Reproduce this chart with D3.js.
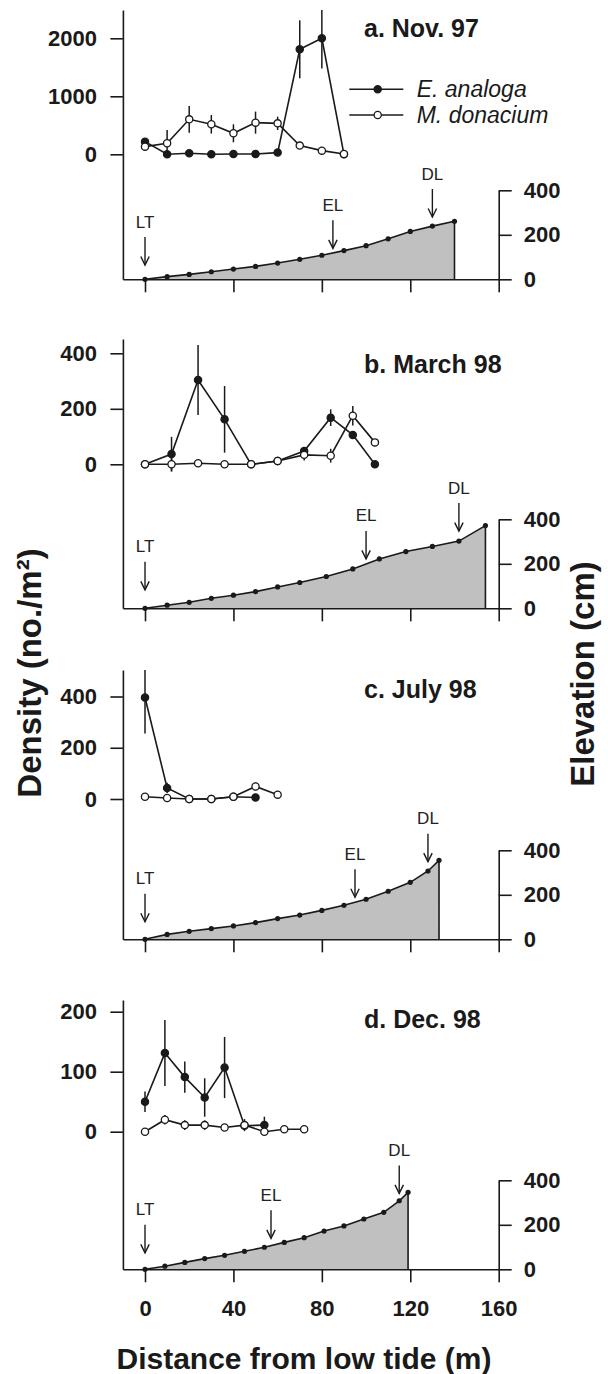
<!DOCTYPE html>
<html>
<head>
<meta charset="utf-8">
<script src="https://cdn.jsdelivr.net/npm/d3@7"></script>
<style>
  body { margin: 0; background: #fff; }
  svg text { font-family: "Liberation Sans", Arial, sans-serif; }
</style>
</head>
<body>
<div id="d3-container"></div>
<script>
// Densidad (no./m²) de E. analoga y M. donacium, con error estándar
const distA = [0, 10, 20, 30, 40, 50, 60, 70, 80, 90]
const eaA = [218, 0, 17, 0, 5, 5, 29, 1810, 2000, 0]
const eaSeA = [40, 0, 0, 0, 0, 0, 0, 500, 520, 0]
const mdA = [132, 190, 603, 517, 362, 546, 534, 150, 63, 5]
const mdSeA = [60, 230, 230, 160, 155, 190, 115, 0, 0, 0]

const distB = [0, 12, 24, 36, 48, 60, 72, 84, 94, 104]
const eaB = [0, 37, 304, 162, 0, 12, 48, 168, 106, 0]
const eaSeB = [0, 62, 126, 120, 0, 0, 10, 30, 0, 0]
const mdB = [0, 0, 4, 0, 0, 12, 34, 31, 175, 79]
const mdSeB = [0, 26, 0, 0, 0, 15, 20, 25, 35, 0]

const distC = [0, 10, 20, 30, 40, 50, 60]
const eaC = [396, 43, 0, 0, 9, 6, null]
const eaSeC = [140, 20, 0, 0, 0, 0, 0]
const mdC = [9, 4, 0, 0, 9, 49, 17]
const mdSeC = [0, 0, 0, 0, 0, 15, 0]

const distD = [0, 9, 18, 27, 36, 45, 54, 63, 72]
const eaD = [50, 131, 91, 57, 107, 10, 11, null, null]
const eaSeD = [17, 55, 26, 32, 51, 0, 14, 0, 0]
const mdD = [0, 20, 11, 11, 7, 11, 0, 4, 4]
const mdSeD = [0, 8, 8, 8, 0, 10, 0, 0, 0]

// Perfil de elevación (cm) de la playa
const elevDistA = [0, 10, 20, 30, 40, 50, 60, 70, 80, 90, 100, 110, 120, 130, 140]
const elevA = [0, 12, 22, 34, 46, 58, 73, 90, 108, 129, 151, 182, 215, 239, 261]
const elevDistB = [0, 10, 20, 30, 40, 50, 60, 70, 82, 94, 106, 118, 130, 142, 154]
const elevB = [0, 14, 27, 45, 59, 75, 96, 116, 143, 177, 222, 255, 278, 302, 372]
const elevDistC = [0, 10, 20, 30, 40, 50, 60, 70, 80, 90, 100, 110, 120, 128, 133]
const elevC = [0, 22, 36, 48, 60, 75, 93, 109, 130, 153, 180, 216, 256, 307, 355]
const elevDistD = [0, 9, 18, 27, 36, 45, 54, 63, 72, 81, 90, 99, 108, 115, 119]
const elevD = [0, 14, 31, 48, 63, 81, 99, 121, 142, 172, 195, 226, 256, 308, 346]

// Marcas: etiqueta, distancia (m), elevación de la punta de la flecha (cm)
const marksA = [["LT", 0, 64], ["EL", 85, 139], ["DL", 130, 280]]
const marksB = [["LT", 0, 83], ["EL", 100, 222], ["DL", 142, 347]]
const marksC = [["LT", 0, 79], ["EL", 95, 189], ["DL", 128, 349]]
const marksD = [["LT", 0, 74], ["EL", 57, 139], ["DL", 115, 341]]

const titles = ["a. Nov. 97", "b. March 98", "c. July 98", "d. Dec. 98"]
const densTicks = [[0, 1000, 2000], [0, 200, 400], [0, 200, 400], [0, 100, 200]]
const elevTicks = [0, 200, 400]
const xTicks = [0, 40, 80, 120, 160]
const species = ["E. analoga", "M. donacium"]

// Tabla de paneles construida a partir de los arrays
const panels = [
  {dist: distA, ea: eaA, eaSe: eaSeA, md: mdA, mdSe: mdSeA, elevDist: elevDistA, elev: elevA, marks: marksA},
  {dist: distB, ea: eaB, eaSe: eaSeB, md: mdB, mdSe: mdSeB, elevDist: elevDistB, elev: elevB, marks: marksB},
  {dist: distC, ea: eaC, eaSe: eaSeC, md: mdC, mdSe: mdSeC, elevDist: elevDistC, elev: elevC, marks: marksC},
  {dist: distD, ea: eaD, eaSe: eaSeD, md: mdD, mdSe: mdSeD, elevDist: elevDistD, elev: elevD, marks: marksD}
]

// Posición vertical de cada panel (eje inferior y desplazamientos)
const layout = [
  {bottom: 279.3, zeroOff: 125, topOff: 241, titleOff: 242},
  {bottom: 608.3, zeroOff: 144, topOff: 255, titleOff: 235},
  {bottom: 939.3, zeroOff: 140.3, topOff: 242.8, titleOff: 241},
  {bottom: 1269.3, zeroOff: 137.6, topOff: 257.6, titleOff: 241}
]

const width = 608, height = 1374
const axisHeight = 269.3
const ink = "#1a1a1a"

const svg = d3.select("#d3-container")
              .append("svg")
                .attr("width", width)
                .attr("height", height)

const x = d3.scaleLinear().domain([-10, 160]).range([122.9, 498.7])

function styleAxis(g, size, weight) {
  g.attr("font-family", "'Liberation Sans', Arial, sans-serif")
   .attr("font-size", size)
   .attr("font-weight", weight)
  g.selectAll("path, line").attr("stroke", ink).attr("stroke-width", 1.6)
  g.selectAll("text").attr("fill", ink)
}

panels.forEach((p, i) => {
  const L = layout[i]
  const ticks = densTicks[i]
  const g = svg.append("g")

  // Escalas del panel
  const yD = d3.scaleLinear()
               .domain([0, ticks[ticks.length - 1]])
               .range([L.bottom - L.zeroOff, L.bottom - L.topOff])
  const top = L.bottom - axisHeight
  const yDaxis = d3.scaleLinear()
                   .domain([yD.invert(L.bottom), yD.invert(top)])
                   .range([L.bottom, top])
  const yE = d3.scaleLinear().domain([0, 400]).range([L.bottom, L.bottom - 89])

  // Área del perfil de elevación
  const prof = p.elevDist.map((d, j) => ({d: d, e: p.elev[j]}))
  g.append("path")
    .datum(prof)
    .attr("fill", "#c0c0c0")
    .attr("d", d3.area().x(d => x(d.d)).y0(yE(0)).y1(d => yE(d.e)))
  g.append("path")
    .datum(prof.concat([{d: prof[prof.length - 1].d, e: 0}]))
    .attr("fill", "none")
    .attr("stroke", ink)
    .attr("stroke-width", 1.6)
    .attr("d", d3.line().x(d => x(d.d)).y(d => yE(d.e)))
  g.selectAll(".edot")
    .data(prof)
    .join("circle")
    .attr("cx", d => x(d.d))
    .attr("cy", d => yE(d.e))
    .attr("r", 2.6)
    .attr("fill", ink)

  // Ejes
  g.append("g")
    .attr("transform", `translate(0, ${L.bottom})`)
    .call(d3.axisBottom(x).tickValues(xTicks).tickSize(13).tickSizeOuter(0).tickPadding(18)
      .tickFormat(i === 3 ? d3.format("d") : () => ""))
    .call(a => styleAxis(a, 22, "bold"))
  g.append("g")
    .attr("transform", `translate(${x(-10)}, 0)`)
    .call(d3.axisLeft(yDaxis).tickValues(ticks).tickSize(12.5).tickSizeOuter(0).tickPadding(13.5)
      .tickFormat(d3.format("d")))
    .call(a => styleAxis(a, 22, "bold"))
  g.append("g")
    .attr("transform", `translate(${x(160)}, 0)`)
    .call(d3.axisRight(yE).tickValues(elevTicks).tickSize(13).tickSizeOuter(0).tickPadding(12)
      .tickFormat(d3.format("d")))
    .call(a => styleAxis(a, 22, "bold"))

  // Flechas LT / EL / DL
  const mk = g.selectAll(".mark")
    .data(p.marks)
    .join("g")
    .attr("transform", d => `translate(${x(d[1])}, ${yE(d[2])})`)
  mk.append("line")
    .attr("y1", -28).attr("y2", 0)
    .attr("stroke", ink).attr("stroke-width", 1.4)
  mk.append("path")
    .attr("d", "M-4.2,-8.5L0,0L4.2,-8.5")
    .attr("fill", "none").attr("stroke", ink).attr("stroke-width", 1.4)
  mk.append("text")
    .attr("y", -37.5)
    .attr("text-anchor", "middle")
    .attr("font-size", 17)
    .attr("fill", "#222")
    .text(d => d[0])

  // Series de densidad con barras de error
  const series = [
    {v: p.ea, se: p.eaSe, fill: ink},
    {v: p.md, se: p.mdSe, fill: "#fff"}
  ]
  const topVal = yDaxis.domain()[1]
  series.forEach(s => {
    const pts = p.dist.map((d, j) => ({d: d, v: s.v[j], se: s.se[j]})).filter(d => d.v !== null)
    g.selectAll(null)
      .data(pts.filter(d => d.se > 0))
      .join("line")
      .attr("x1", d => x(d.d)).attr("x2", d => x(d.d))
      .attr("y1", d => yD(d.v - d.se))
      .attr("y2", d => yD(Math.min(d.v + d.se, topVal)))
      .attr("stroke", ink).attr("stroke-width", 1.5)
    g.append("path")
      .datum(pts)
      .attr("fill", "none")
      .attr("stroke", ink)
      .attr("stroke-width", 1.6)
      .attr("d", d3.line().x(d => x(d.d)).y(d => yD(d.v)))
    g.selectAll(null)
      .data(pts)
      .join("circle")
      .attr("cx", d => x(d.d))
      .attr("cy", d => yD(d.v))
      .attr("r", 3.6)
      .attr("fill", s.fill)
      .attr("stroke", ink)
      .attr("stroke-width", 1.3)
  })

  // Título del panel
  g.append("text")
    .attr("x", 364)
    .attr("y", L.bottom - L.titleOff)
    .attr("font-size", 25)
    .attr("font-weight", "bold")
    .attr("fill", ink)
    .text(titles[i])
})

// Leyenda (panel a)
const legend = svg.append("g")
const legY = [89.3, 115]
species.forEach((name, k) => {
  legend.append("line")
    .attr("x1", 349.3).attr("x2", 403.3)
    .attr("y1", legY[k]).attr("y2", legY[k])
    .attr("stroke", ink).attr("stroke-width", 1.6)
  legend.append("circle")
    .attr("cx", 377.7).attr("cy", legY[k]).attr("r", 3.6)
    .attr("fill", k === 0 ? ink : "#fff")
    .attr("stroke", ink).attr("stroke-width", 1.3)
  legend.append("text")
    .attr("x", 416.7).attr("y", legY[k] + 8)
    .attr("font-size", 23)
    .attr("font-style", "italic")
    .attr("fill", ink)
    .text(name)
})

// Títulos de los ejes
svg.append("text")
  .attr("transform", "translate(40.5, 673) rotate(-90)")
  .attr("text-anchor", "middle")
  .attr("font-size", 33)
  .attr("font-weight", "bold")
  .attr("fill", ink)
  .text("Density (no./m²)")

svg.append("text")
  .attr("transform", "translate(594, 674) rotate(-90)")
  .attr("text-anchor", "middle")
  .attr("font-size", 33)
  .attr("font-weight", "bold")
  .attr("fill", ink)
  .text("Elevation (cm)")

svg.append("text")
  .attr("x", 304)
  .attr("y", 1369.3)
  .attr("text-anchor", "middle")
  .attr("font-size", 30)
  .attr("font-weight", "bold")
  .attr("fill", ink)
  .text("Distance from low tide (m)")
</script>
</body>
</html>
